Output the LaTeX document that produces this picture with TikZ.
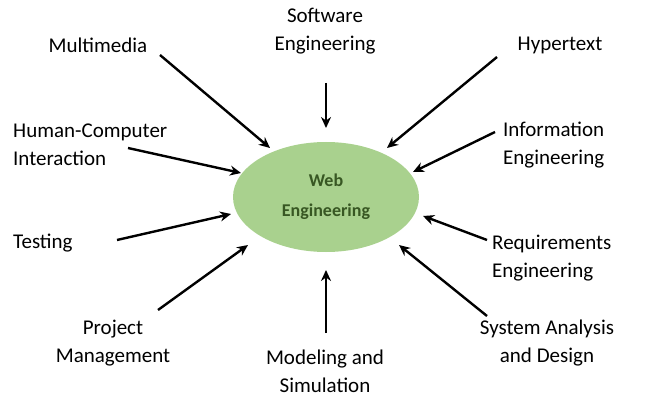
\documentclass[tikz,border=0pt]{standalone}
\usepackage{fontspec}
\setmainfont{Carlito}
\usetikzlibrary{arrows.meta,shapes.geometric}
\definecolor{egreen}{HTML}{A9D18E}
\definecolor{dgreen}{HTML}{385723}
\begin{document}
\begin{tikzpicture}[x=1pt,y=-1pt,
  lbl/.style={font=\fontsize{21}{28}\selectfont, inner sep=0pt, align=center},
  lbll/.style={font=\fontsize{21}{28}\selectfont, inner sep=0pt, align=left},
  arr/.style={line width=2.4pt, -{Stealth[length=11pt,width=10pt]}}]
\useasboundingbox (0,0) rectangle (645,409);
\node[ellipse, fill=egreen, minimum width=186pt, minimum height=110pt, inner sep=0pt,
  font=\fontsize{18}{30}\selectfont\bfseries, text=dgreen, align=center] (we) at (326,197) {Web\\Engineering};
\node[lbl] (mm) at (98,45) {Multimedia};
\node[lbl] (se) at (325,31) {Software\\Engineering};
\node[lbl] (ht) at (560,45) {Hypertext};
\node[lbll, anchor=west] (hc) at (13,145) {Human-Computer\\Interaction};
\node[lbll, anchor=west] (ie) at (503,145) {Information\\Engineering};
\node[lbll, anchor=west] (ts) at (13,243) {Testing};
\node[lbll, anchor=west] (re) at (492,258) {Requirements\\Engineering};
\node[lbl] (pm) at (113,343) {Project\\Management};
\node[lbl] (ms) at (325,371) {Modeling and\\Simulation};
\node[lbl] (sa) at (547,343) {System Analysis\\and Design};
\coordinate (mm1) at (160,55); \coordinate (mm2) at (270,148);
\coordinate (se1) at (326,83); \coordinate (se2) at (326,128);
\coordinate (ht1) at (497,57); \coordinate (ht2) at (387,148);
\coordinate (ie1) at (495,132); \coordinate (ie2) at (413,172);
\coordinate (hc1) at (128,148); \coordinate (hc2) at (241,173);
\coordinate (ts1) at (117,240); \coordinate (ts2) at (231,214);
\coordinate (re1) at (487,240); \coordinate (re2) at (423,216);
\coordinate (pm1) at (158,310); \coordinate (pm2) at (248,245);
\coordinate (ms1) at (326,333); \coordinate (ms2) at (326,270);
\coordinate (sa1) at (487,316); \coordinate (sa2) at (399,245);
\foreach \a in {mm,se,ht,ie,hc,ts,re,pm,ms,sa} \draw[arr] (\a1) -- (\a2);
\end{tikzpicture}
\end{document}
